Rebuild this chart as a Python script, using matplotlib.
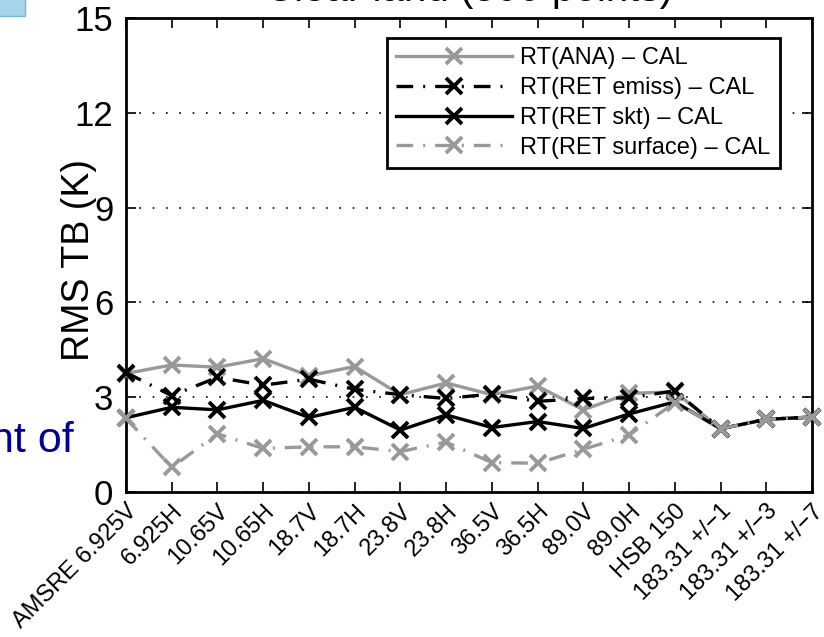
"""RMS of brightness temperature differences per channel, clear land"""

import matplotlib
matplotlib.use("Agg")
import matplotlib.pyplot as plt
from matplotlib.patches import Rectangle


channels = ["AMSRE 6.925V", "6.925H", "10.65V", "10.65H", "18.7V", "18.7H",
            "23.8V", "23.8H", "36.5V", "36.5H", "89.0V", "89.0H", "HSB 150",
            "183.31 +/\u22121", "183.31 +/\u22123", "183.31 +/\u22127"]

rt_ana = [3.75, 4.02, 3.95, 4.22, 3.68, 3.97, 3.08, 3.45, 3.08, 3.35, 2.6,
          3.12, 3.17, 2.0, 2.3, 2.37]
rt_emiss = [3.78, 3.05, 3.63, 3.38, 3.57, 3.25, 3.08, 2.96, 3.1, 2.87, 2.96,
            2.98, 3.2, 2.0, 2.3, 2.37]
rt_skt = [2.35, 2.68, 2.6, 2.9, 2.36, 2.68, 1.96, 2.44, 2.04, 2.23, 2.01,
          2.47, 2.85, 2.0, 2.3, 2.37]
rt_surface = [2.33, 0.78, 1.84, 1.38, 1.43, 1.43, 1.28, 1.58, 0.93, 0.91,
              1.35, 1.8, 2.83, 2.0, 2.3, 2.37]

series_names = ["RT(ANA) \u2013 CAL", "RT(RET emiss) \u2013 CAL",
                "RT(RET skt) \u2013 CAL", "RT(RET surface) \u2013 CAL"]
yticks = [0, 3, 6, 9, 12, 15]

W, H = 824, 637
DASHDOT = (0, (5, 3, 0.6, 3))

plt.rcParams['font.family'] = ['Liberation Sans', 'DejaVu Sans']

fig = plt.figure(figsize=(W / 100, H / 100), dpi=100)
ax = fig.add_axes([126 / W, 1 - 492 / H, 686 / W, 474 / H])

x = list(range(len(channels)))
styles = [("0.6", "-"), ("black", DASHDOT), ("black", "-"), ("0.6", DASHDOT)]
for vals, name, (col, ls) in zip([rt_ana, rt_emiss, rt_skt, rt_surface],
                                 series_names, styles):
	ax.plot(x, vals, color=col, linestyle=ls, linewidth=2.4, marker="x",
	        markersize=11, markeredgewidth=2.8, label=name, clip_on=False,
	        zorder=3)

ax.set_xlim(0, len(channels) - 1)
ax.set_ylim(0, 15)
ax.set_xticks(x)
ax.set_xticklabels(channels, rotation=45, ha="right", va="top",
                   rotation_mode="anchor", fontsize=17)
ax.set_yticks(yticks)
ax.set_yticklabels([str(t) for t in yticks], fontsize=25)
ax.tick_params(axis="both", direction="in", top=True, right=True,
               length=7, width=1.2)
ax.tick_params(axis="x", pad=6)
ax.tick_params(axis="y", pad=9)
for sp in ax.spines.values():
	sp.set_linewidth(2)

# horizontal dotted grid only
ax.yaxis.grid(True, linestyle=(0, (1, 7)), color="black", linewidth=1.2)
ax.set_axisbelow(True)

leg = ax.legend(loc="upper right", bbox_to_anchor=(0.953, 0.958),
                borderaxespad=0, fontsize=17, handlelength=4.9,
                handletextpad=0.35, labelspacing=0.33, numpoints=1,
                fancybox=False, framealpha=1, borderpad=0.4)
leg.get_frame().set_edgecolor("black")
leg.get_frame().set_linewidth(2)

fig.text(89 / W, 1 - 260 / H, "RMS TB (K)", rotation=90,
         rotation_mode="anchor", ha="center", va="baseline", fontsize=27)

# bits of the slide around the chart
fig.text(469 / W, 1 - 1 / H, "Clear land (500 points)", ha="center",
         va="baseline", fontsize=29)
fig.text(-10 / W, 1 - 452 / H, "nt of", ha="left", va="baseline",
         fontsize=31, color="#000099")
fig.patches.append(Rectangle((-2 / W, 1 - 16 / H), 27 / W, 20 / H,
                             transform=fig.transFigure, facecolor="#a6d4ea",
                             edgecolor="#79b2d2", linewidth=1))

plt.savefig("out.png", dpi=100)
